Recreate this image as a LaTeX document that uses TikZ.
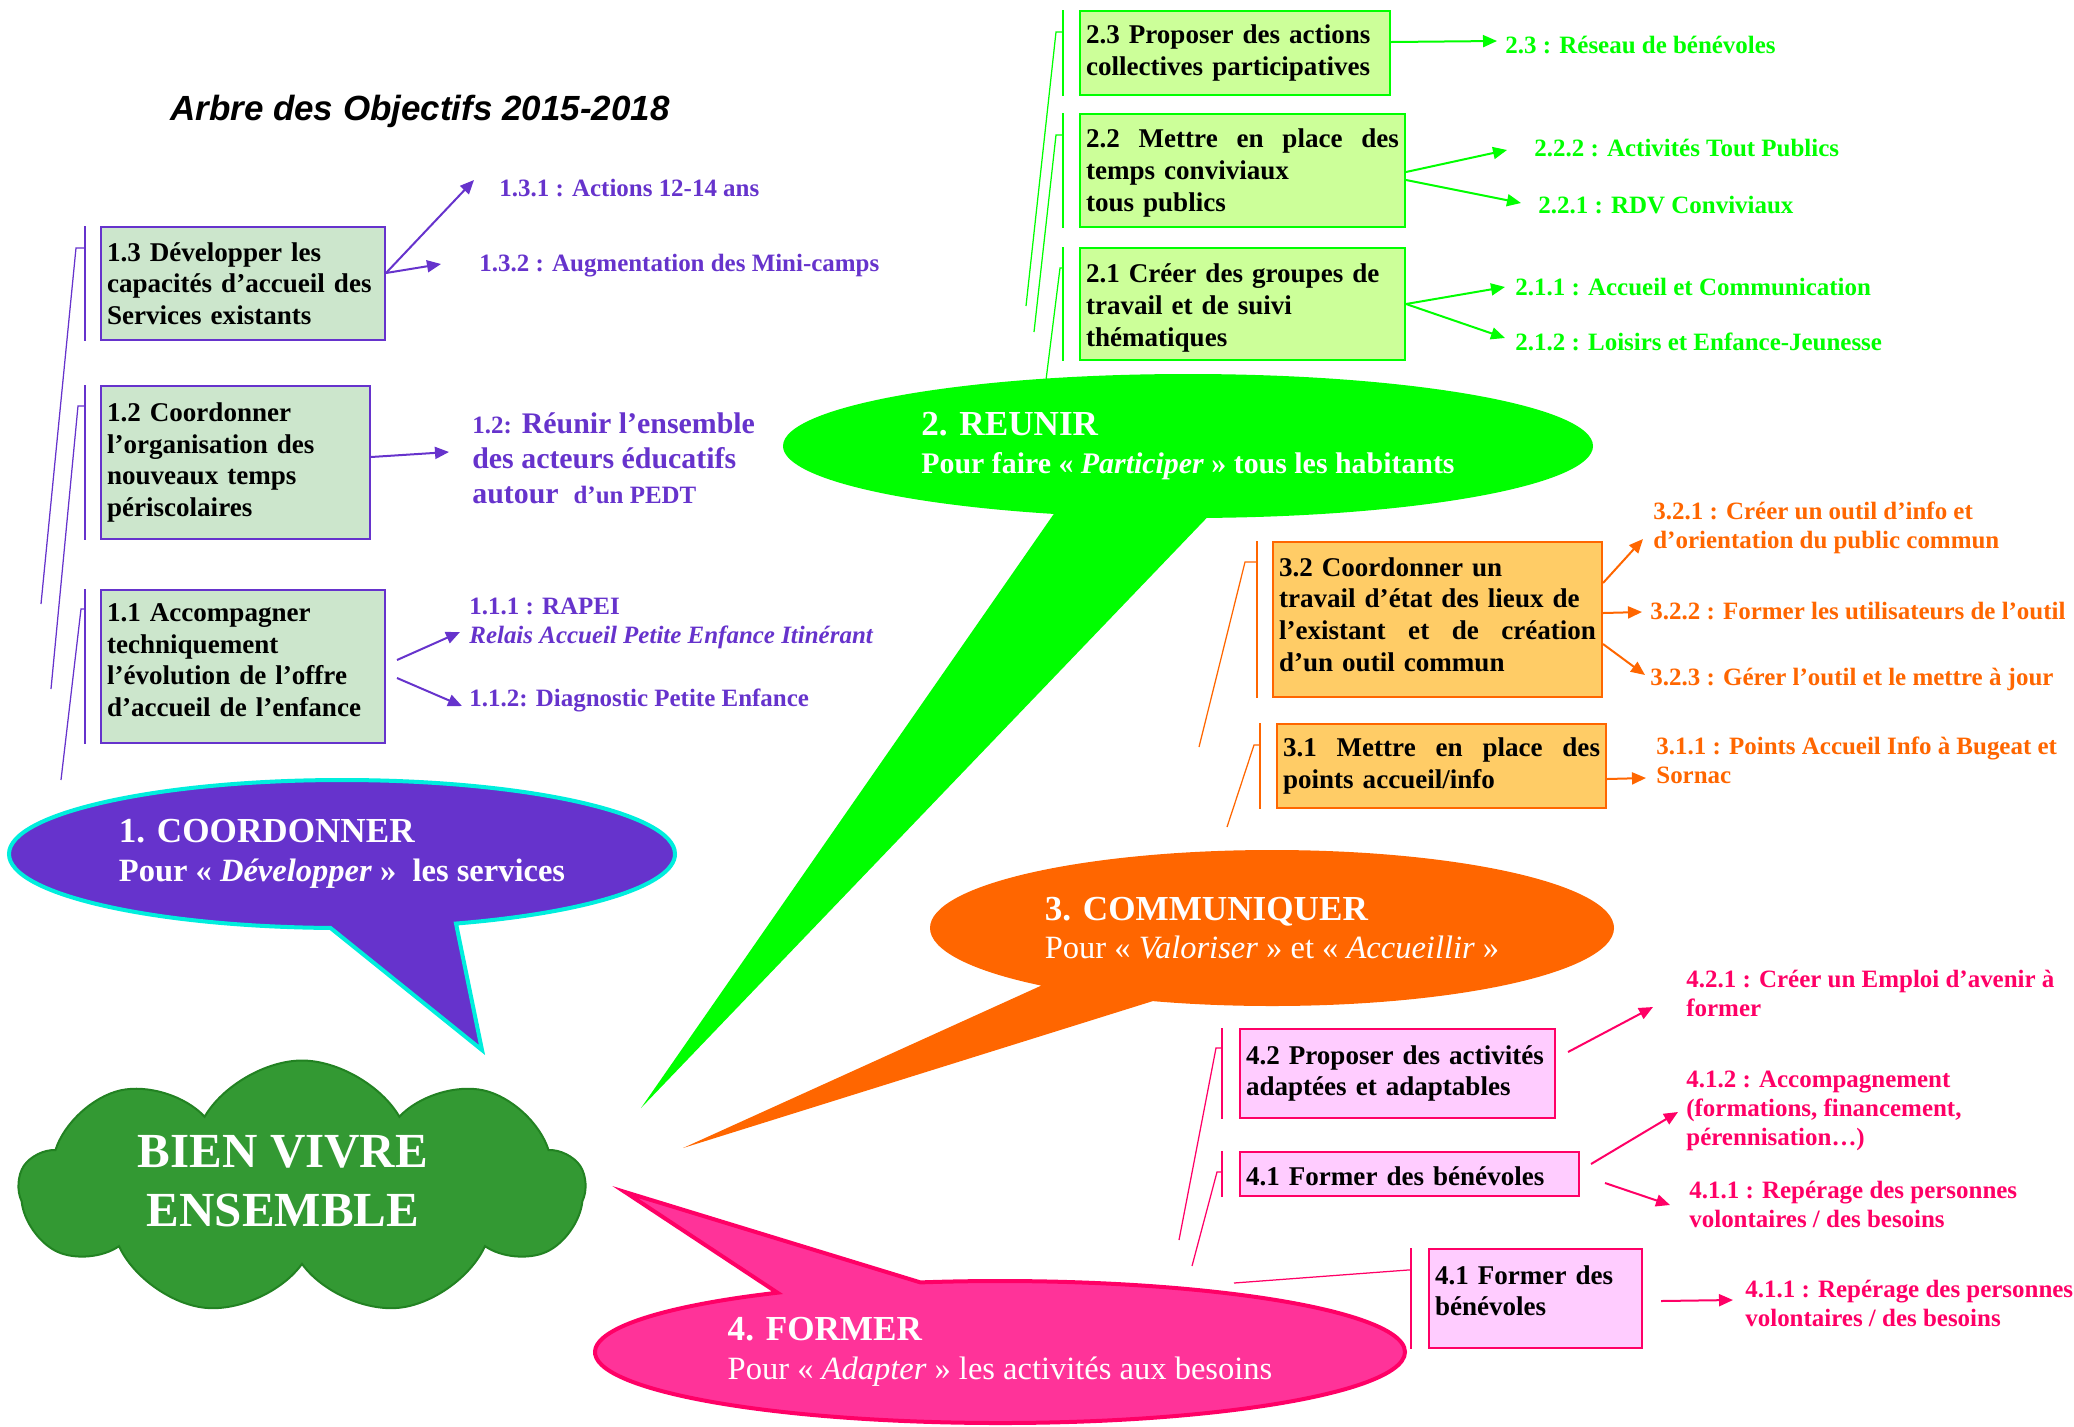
\documentclass[tikz,border=0pt]{standalone}
\usepackage{fontspec}
\setmainfont{Liberation Serif}
\newfontfamily\titrefont{Liberation Sans}
\usetikzlibrary{arrows.meta,shapes.callouts,shapes.symbols}

\definecolor{violet1}{RGB}{102,51,204}
\definecolor{vertpale}{RGB}{204,230,204}
\definecolor{cyan1}{RGB}{0,238,221}
\definecolor{vert1}{RGB}{0,255,0}
\definecolor{vertclair}{RGB}{204,255,153}
\definecolor{orange1}{RGB}{255,102,0}
\definecolor{orangeclair}{RGB}{255,204,102}
\definecolor{rose1}{RGB}{255,0,102}
\definecolor{roseclair}{RGB}{255,204,255}
\definecolor{rosebulle}{RGB}{255,51,153}
\definecolor{vertnuage}{RGB}{51,153,51}
\definecolor{vertfonce}{RGB}{34,130,34}

\tikzset{
  objectif/.style={draw, line width=0.4mm, anchor=north west, align=left,
    inner xsep=1.2mm, inner ysep=0pt,
    font=\fontsize{15.4}{18}\selectfont\bfseries},
  action/.style={anchor=west, align=left, inner sep=0pt,
    font=\fontsize{14.2}{16.5}\selectfont\bfseries},
  barre/.style={line width=0.4mm},
  trait/.style={line width=0.25mm},
  fleche/.style={line width=0.4mm, -{Triangle[length=2.8mm,width=2.4mm]}},
  bulle/.style={ellipse callout, callout pointer arc=22, inner sep=0pt,
    align=left, text=white, font=\fontsize{18.5}{22}\selectfont},
}

\begin{document}
\begin{tikzpicture}[x=0.2mm,y=-0.2mm]
  \useasboundingbox (0,0) rectangle (2074,1426);

  % titre
  \node[font=\titrefont\fontsize{19.9}{24}\selectfont\bfseries\itshape] (titre) at (420,111) {Arbre des Objectifs 2015-2018};

  % bulles
  \node[bulle, fill=violet1, draw=cyan1, line width=0.8mm,
    minimum width=133.2mm, minimum height=29.6mm,
    callout absolute pointer={(482,1050)}] (coordonner) at (342,854)
    {{\fontsize{20}{22}\selectfont\bfseries 1. COORDONNER}\\{\bfseries Pour «~\textit{Développer}~»~~les services}};
  \node[bulle, fill=vert1,
    minimum width=162mm, minimum height=28.8mm,
    callout absolute pointer={(641,1108)}] (reunir) at (1188,446)
    {{\fontsize{20}{22}\selectfont\bfseries 2. REUNIR}\\{\fontsize{17}{22}\selectfont\bfseries Pour faire «~\textit{Participer}~» tous les habitants}};
  \node[bulle, fill=orange1,
    minimum width=136.8mm, minimum height=31.2mm,
    callout absolute pointer={(683,1148)}] (communiquer) at (1272,928)
    {{\fontsize{20}{22}\selectfont\bfseries 3. COMMUNIQUER}\\Pour «~\textit{Valoriser}~» et «~\textit{Accueillir}~»};
  \node[bulle, fill=rosebulle, draw=rose1, line width=0.8mm,
    minimum width=162mm, minimum height=28.4mm,
    callout absolute pointer={(625,1192)}] (former) at (1000,1352)
    {{\fontsize{20}{22}\selectfont\bfseries 4. FORMER}\\Pour «~\textit{Adapter}~» les activités aux besoins};

  \node[cloud, cloud puffs=9, cloud puff arc=120, aspect=2.35, draw=vertfonce,
    line width=0.4mm, fill=vertnuage, minimum width=113mm, minimum height=51mm] (nuage) at (302,1188) {};
  \node[text=white, align=center, font=\fontsize{27.9}{33.6}\selectfont\bfseries] (bienvivre) at (283,1181) {BIEN VIVRE\\ENSEMBLE};

  % 1. coordonner
  \node[objectif, draw=violet1, fill=vertpale, text width=54.4mm, minimum height=22.6mm] (b13) at (100,226)
    {1.3 Développer les\\capacités d’accueil des\\Services existants};
  \node[objectif, draw=violet1, fill=vertpale, text width=51.4mm, minimum height=30.6mm] (b12) at (100,385)
    {1.2 Coordonner\\l’organisation des\\nouveaux temps\\périscolaires};
  \node[objectif, draw=violet1, fill=vertpale, text width=54.4mm, minimum height=30.6mm] (b11) at (100,589)
    {1.1 Accompagner\\techniquement\\l’évolution de l’offre\\d’accueil de l’enfance\rule[-2.6mm]{0pt}{0pt}};

  \node[action, text=violet1] (l131) at (499,188) {1.3.1 : Actions 12-14 ans};
  \node[action, text=violet1] (l132) at (479,266) {1.3.2 : Augmentation des Mini-camps};
  \node[action, text=violet1, font=\fontsize{17}{19.9}\selectfont\bfseries] (l12) at (472,458)
    {{\fontsize{14.2}{16}\selectfont 1.2:} Réunir l’ensemble\\des acteurs éducatifs\\autour~~{\fontsize{14.2}{16}\selectfont d’un PEDT}};
  \node[action, text=violet1] (l111) at (469,623.5) {1.1.1 : RAPEI\\\textit{Relais Accueil Petite Enfance Itinérant}};
  \node[action, text=violet1] (l112) at (469,700) {1.1.2: Diagnostic Petite Enfance};

  \coordinate (e13) at (41,604);
  \coordinate (e12) at (51,689);
  \coordinate (e11) at (61,780);
  \draw[barre, violet1] ([xshift=-3mm]b13.north west) -- ([xshift=-3mm]b13.south west);
  \draw[barre, violet1] ([xshift=-3mm]b12.north west) -- ([xshift=-3mm]b12.south west);
  \draw[barre, violet1] ([xshift=-3mm]b11.north west) -- ([xshift=-3mm]b11.south west);
  \draw[trait, violet1] ([xshift=-3mm,yshift=-4.4mm]b13.north west) -- ++(-9,0) -- (e13);
  \draw[trait, violet1] ([xshift=-3mm,yshift=-4.2mm]b12.north west) -- ++(-7,0) -- (e12);
  \draw[trait, violet1] ([xshift=-3mm,yshift=-4mm]b11.north west) -- ++(-4,0) -- (e11);

  \draw[fleche, violet1] ([yshift=2.1mm]b13.east) -- ([xshift=-5mm,yshift=1.6mm]l131.west);
  \draw[fleche, violet1] ([yshift=2.1mm]b13.east) -- ([xshift=-7.6mm,yshift=0.4mm]l132.west);
  \draw[fleche, violet1] ([yshift=1.1mm]b12.east) -- ([xshift=-4.6mm,yshift=1.2mm]l12.west);
  \draw[fleche, violet1] ([xshift=2.2mm,yshift=1.3mm]b11.east) -- ([xshift=-1.8mm,yshift=-1.7mm]l111.west);
  \draw[fleche, violet1] ([xshift=2.2mm,yshift=-2.3mm]b11.east) -- ([xshift=-1.4mm,yshift=-1.2mm]l112.west);

  % 2. reunir
  \node[objectif, draw=vert1, fill=vertclair, text width=59.6mm, minimum height=16.8mm] (b23) at (1079,10)
    {2.3 Proposer des actions\\\mbox{collectives participatives}};
  \node[objectif, draw=vert1, fill=vertclair, text width=62.6mm, minimum height=22.6mm] (b22) at (1079,113)
    {\rule{0pt}{4.7mm}\makebox[62.6mm]{2.2\hfill Mettre\hfill en\hfill place\hfill des}\\temps conviviaux\\tous publics};
  \node[objectif, draw=vert1, fill=vertclair, text width=62.6mm, minimum height=22.4mm] (b21) at (1079,247)
    {\rule{0pt}{5.4mm}2.1 Créer des groupes de\\travail et de suivi\\thématiques};

  \node[action, text=vert1] (l23) at (1505,45) {2.3 : Réseau de bénévoles};
  \node[action, text=vert1] (l222) at (1534,148) {2.2.2 : Activités Tout Publics};
  \node[action, text=vert1] (l221) at (1538,205) {2.2.1 : RDV Conviviaux};
  \node[action, text=vert1] (l211) at (1515,287) {2.1.1 : Accueil et Communication};
  \node[action, text=vert1] (l212) at (1515,342) {2.1.2 : Loisirs et Enfance-Jeunesse};

  \coordinate (e23) at (1026,306);
  \coordinate (e22) at (1034,332);
  \coordinate (e21) at (1046,380);
  \draw[barre, vert1] ([xshift=-3.2mm]b23.north west) -- ([xshift=-3.2mm]b23.south west);
  \draw[barre, vert1] ([xshift=-3.2mm]b22.north west) -- ([xshift=-3.2mm]b22.south west);
  \draw[barre, vert1] ([xshift=-3.2mm]b21.north west) -- ([xshift=-3.2mm]b21.south west);
  \draw[trait, vert1] ([xshift=-3.2mm,yshift=-4.4mm]b23.north west) -- ++(-7,0) -- (e23);
  \draw[trait, vert1] ([xshift=-3.2mm,yshift=-4.4mm]b22.north west) -- ++(-7,0) -- (e22);
  \draw[trait, vert1] ([xshift=-3.2mm,yshift=-4.2mm]b21.north west) -- ++(-3,0) -- (e21);

  \draw[fleche, vert1] ([yshift=2.2mm]b23.east) -- ([xshift=-1.6mm,yshift=0.8mm]l23.west);
  \draw[fleche, vert1] ([yshift=-0.3mm]b22.east) -- ([xshift=-5.4mm,yshift=-0.4mm]l222.west);
  \draw[fleche, vert1] ([yshift=-1.9mm]b22.east) -- ([xshift=-3.4mm,yshift=0.4mm]l221.west);
  \draw[fleche, vert1] (b21.east) -- ([xshift=-2mm]l211.west);
  \draw[fleche, vert1] (b21.east) -- ([xshift=-2mm,yshift=0.8mm]l212.west);

  % 3. communiquer
  \node[objectif, draw=orange1, fill=orangeclair, text width=63.4mm, minimum height=31mm] (b32) at (1272,541)
    {3.2 Coordonner un\\travail d’état des lieux de\\\makebox[63.4mm]{l’existant\hfill et\hfill de\hfill création}\\d’un outil commun\rule[-2.1mm]{0pt}{0pt}};
  \node[objectif, draw=orange1, fill=orangeclair, text width=63.4mm, minimum height=16.8mm] (b31) at (1276,723)
    {\makebox[63.4mm]{3.1\hfill Mettre\hfill en\hfill place\hfill des}\\points accueil/info};

  \node[action, text=orange1] (l321) at (1653,528) {3.2.1 : Créer un outil d’info et\\d’orientation du public commun};
  \node[action, text=orange1] (l322) at (1650,611) {3.2.2 : Former les utilisateurs de l’outil};
  \node[action, text=orange1] (l323) at (1650,679) {3.2.3 : Gérer l’outil et le mettre à jour};
  \node[action, text=orange1] (l311) at (1656,760.5) {3.1.1 : Points Accueil Info à Bugeat et\\Sornac};

  \coordinate (e32) at (1199,747);
  \coordinate (e31) at (1227,827);
  \draw[barre, orange1] ([xshift=-3mm]b32.north west) -- ([xshift=-3mm]b32.south west);
  \draw[barre, orange1] ([xshift=-3.2mm]b31.north west) -- ([xshift=-3.2mm]b31.south west);
  \draw[trait, orange1] ([xshift=-3mm,yshift=-4.2mm]b32.north west) -- ++(-12,0) -- (e32);
  \draw[trait, orange1] ([xshift=-3.2mm,yshift=-4.4mm]b31.north west) -- ++(-6,0) -- (e31);

  \draw[fleche, orange1] ([yshift=7.3mm]b32.east) -- ([xshift=-2mm,yshift=-2.2mm]l321.west);
  \draw[fleche, orange1] ([yshift=1.3mm]b32.east) -- ([xshift=-1.6mm,yshift=-0.2mm]l322.west);
  \draw[fleche, orange1] ([yshift=-4.9mm]b32.east) -- ([xshift=-1mm,yshift=0.8mm]l323.west);
  \draw[fleche, orange1] ([yshift=-2.6mm]b31.east) -- ([xshift=-2mm,yshift=-3.5mm]l311.west);

  % 4. former
  \node[objectif, draw=rose1, fill=roseclair, text width=60.6mm, minimum height=17.8mm] (b42) at (1239,1028)
    {\mbox{4.2 Proposer des activités}\\adaptées et adaptables};
  \node[objectif, draw=rose1, fill=roseclair, text width=65.4mm, minimum height=8.8mm] (b41) at (1239,1151)
    {\rule{0pt}{4.8mm}4.1 Former des bénévoles};
  \node[objectif, draw=rose1, fill=roseclair, text width=40.2mm, minimum height=19.8mm] (b41b) at (1428,1248)
    {4.1 Former des\\bénévoles\rule[-3.2mm]{0pt}{0pt}};

  \node[action, text=rose1] (l421) at (1686,993) {4.2.1 : Créer un Emploi d’avenir à\\former};
  \node[action, text=rose1] (l412) at (1686,1110.5) {4.1.2 : Accompagnement\\(formations, financement,\\pérennisation…)};
  \node[action, text=rose1] (l411) at (1689,1204) {4.1.1 : Repérage des personnes\\volontaires / des besoins};
  \node[action, text=rose1] (l411b) at (1745,1303) {4.1.1 : Repérage des personnes\\volontaires / des besoins};

  \coordinate (e42) at (1179,1240);
  \coordinate (e41) at (1192,1266);
  \coordinate (e41b) at (1234,1283);
  \draw[barre, rose1] ([xshift=-3.4mm]b42.north west) -- ([xshift=-3.4mm]b42.south west);
  \draw[barre, rose1] ([xshift=-3.4mm]b41.north west) -- ([xshift=-3.4mm]b41.south west);
  \draw[barre, rose1] ([xshift=-3.4mm]b41b.north west) -- ([xshift=-3.4mm]b41b.south west);
  \draw[trait, rose1] ([xshift=-3.4mm,yshift=-4mm]b42.north west) -- ++(-6,0) -- (e42);
  \draw[trait, rose1] ([xshift=-3.4mm,yshift=-4.2mm]b41.north west) -- ++(-5,0) -- (e41);
  \draw[trait, rose1] ([xshift=-3.4mm,yshift=-4.4mm]b41b.north west) -- ++(-3,0) -- (e41b);

  \draw[fleche, rose1] ([xshift=2.4mm,yshift=4.3mm]b42.east) -- ([xshift=-6.6mm,yshift=-2.8mm]l421.west);
  \draw[fleche, rose1] ([xshift=2.2mm,yshift=2mm]b41.east) -- ([xshift=-1.6mm,yshift=-0.3mm]l412.west);
  \draw[fleche, rose1] ([xshift=5mm,yshift=-1.8mm]b41.east) -- ([xshift=-3.8mm,yshift=-0.2mm]l411.west);
  \draw[fleche, rose1] ([xshift=3.6mm,yshift=-0.5mm]b41b.east) -- ([xshift=-2.4mm,yshift=0.6mm]l411b.west);
\end{tikzpicture}
\end{document}
